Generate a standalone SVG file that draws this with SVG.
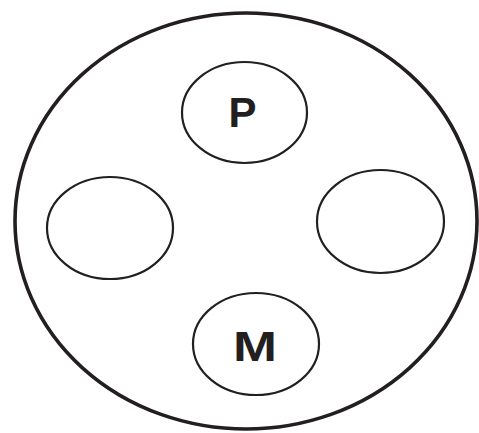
<svg xmlns="http://www.w3.org/2000/svg" width="479" height="433" viewBox="0 0 479 433">
<style>
.node{fill:#fff;stroke:#231f20;stroke-width:2.2}
.outer{fill:#fff;stroke:#231f20;stroke-width:3.6}
.lbl{font-family:"Liberation Sans",Arial,sans-serif;font-weight:bold;font-size:42px;fill:#231f20;text-anchor:middle}
</style>
<rect width="479" height="433" fill="#fff"/>
<g id="outer"><ellipse class="outer" cx="246" cy="221" rx="231" ry="208"/></g>
<g id="connectors"></g>
<g id="node-P"><ellipse class="node" cx="244.5" cy="112.5" rx="62.5" ry="50.5"/><text class="lbl" x="242.5" y="127">P</text></g>
<g id="node-left"><ellipse class="node" cx="110" cy="228" rx="63" ry="51"/></g>
<g id="node-right"><ellipse class="node" cx="380.5" cy="221.5" rx="63.5" ry="51.5"/></g>
<g id="node-M"><ellipse class="node" cx="256" cy="344" rx="63" ry="51"/><text class="lbl" x="255" y="361" textLength="44" lengthAdjust="spacingAndGlyphs">M</text></g>
</svg>
